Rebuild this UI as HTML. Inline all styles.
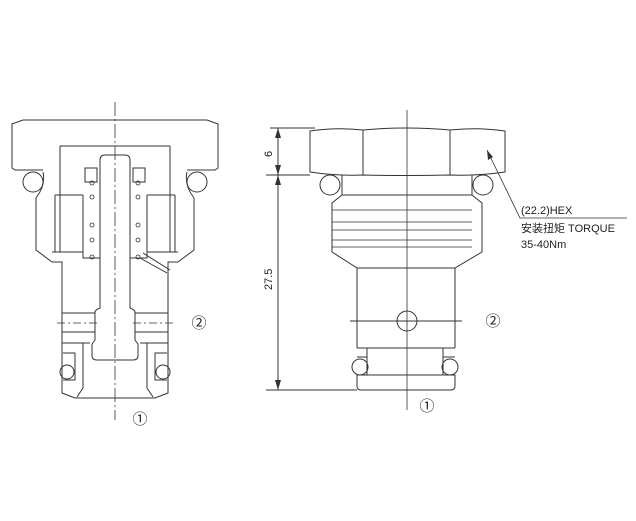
<!DOCTYPE html>
<html><head><meta charset="utf-8"><style>
html,body{margin:0;padding:0;background:#fff;}
svg{display:block;}
text{font-family:"Liberation Sans","Noto Sans CJK SC",sans-serif;fill:#222;}
</style></head><body>
<svg width="636" height="521" viewBox="0 0 636 521" xmlns="http://www.w3.org/2000/svg">
<g fill="none" stroke="#333" stroke-width="1">
<!-- LEFT VIEW half -->
<g id="lh">
  <path d="M115,120 H23 L12,124 V168 L15,170 H43"/>
  <path d="M60,146 H115"/>
  <path d="M60,146 V252"/>
  <circle cx="33" cy="182" r="10"/>
  <path d="M43,172 Q46,185 36,198 V250 L52,262 H62 V393 L75,398 H115"/>
  <path d="M55,195 H83 M55,195 V252 M52,252 H83"/>
  <path d="M83,195 V258 H100"/>
  <path d="M100,160 Q100,155 105,155 H115"/>
  <path d="M100,160 V308 Q95,310 95,312 V340 L92,344 V356 Q92,360 97,360 H115"/>
  <rect x="85" y="168" width="12" height="14"/>
  <g stroke-width="0.8">
    <circle cx="92" cy="183" r="2"/><circle cx="92" cy="197" r="2"/>
    <circle cx="92" cy="225" r="2"/><circle cx="92" cy="240" r="2"/>
    <circle cx="92" cy="257" r="2"/>
  </g>
  <path d="M62,313 H95 M62,332 H95"/>
  <path d="M57,323 H100" stroke-dasharray="8,3,2,3" stroke-width="0.7"/>
  <path d="M62,343 H90 M83,343 V388 L77,397"/>
  <path d="M63,353 H75 V380 H63"/>
  <circle cx="67" cy="372" r="7"/>
</g>
<use href="#lh" transform="translate(230,0) scale(-1,1)"/>
<path d="M143,253 L170,270 M140,258 L167,273"/>
<path d="M115,102 V420" stroke-dasharray="14,3,2,3" stroke-width="0.8"/>

<!-- RIGHT VIEW -->
<path d="M310,131 Q336,127 363,130 Q406,126 450,130 Q478,127 505,131 V172 Q478,176 450,175 Q406,176 363,175 Q336,176 310,172 Z"/>
<path d="M363,130 V175 M450,130 V175"/>
<circle cx="330" cy="185" r="10"/><circle cx="483" cy="185" r="10"/>
<path d="M342,175 V195 L332,203 V252 L357,268 V348 M472,175 V195 L482,203 V252 L455,268 V348"/>
<path d="M342,195 H472"/>
<path d="M332,210 H472 M332,222 H472 M332,230 H472 M332,240 H472 M332,247 H472" stroke-width="0.8"/>
<path d="M357,268 H455"/>
<circle cx="407" cy="321" r="10"/>
<path d="M350,321 H462"/>
<path d="M357,348 H455 M367,348 V375 M443,348 V375 M357,357 H367 M443,357 H455"/>
<circle cx="360" cy="367" r="8"/><circle cx="450" cy="367" r="8"/>
<path d="M357,375 H455 V386 Q455,390 451,390 H361 Q357,390 357,386 Z"/>
<path d="M407,110 V410" stroke-width="0.8"/>
<!-- dims -->
<path d="M270,128 H315 M266,175 H310 M266,390 H357"/>
<path d="M278,128 V390"/>
<path d="M487,150 L520,218 H627" stroke-width="0.8"/>
</g>
<g fill="#333">
<path d="M278,128 l-3,10 h6z M278,175 l-3,-10 h6z M278,175 l-3,10 h6z M278,390 l-3,-10 h6z"/>
<path d="M487,150 l1,10 l5,-3z"/>
</g>
<g font-size="11">
<text transform="translate(272,157) rotate(-90)">6</text>
<text transform="translate(272,290) rotate(-90)">27.5</text>
<text x="521" y="214">(22.2)HEX</text>
<text x="521" y="232">安装扭矩 TORQUE</text>
<text x="521" y="248">35-40Nm</text>
</g>
<g font-size="15" text-anchor="middle">
<text x="199" y="328">②</text>
<text x="140" y="424">①</text>
<text x="493" y="326">②</text>
<text x="427" y="411">①</text>
</g>
</svg>
</body></html>
